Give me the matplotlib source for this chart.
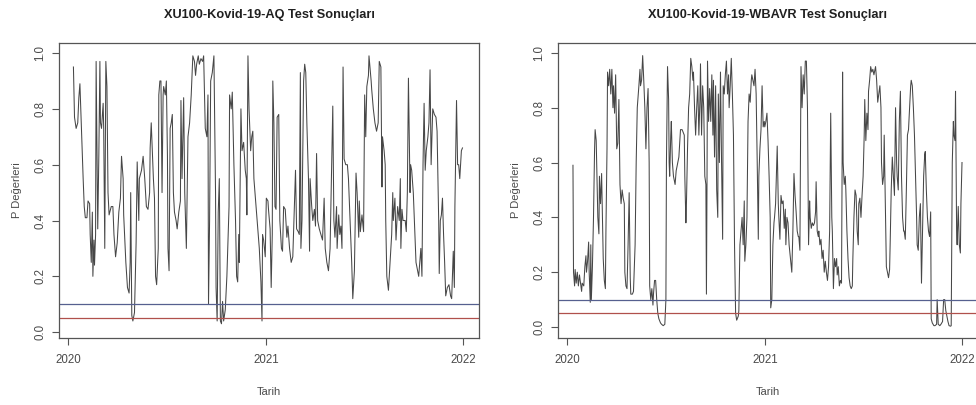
import numpy as np
import pandas as pd
import matplotlib
matplotlib.use("Agg")
import matplotlib.pyplot as plt
import matplotlib.dates as mdates

plt.rcParams['font.family'] = ['Liberation Sans', 'DejaVu Sans']

# day offsets from 2020-01-01 and p values
aq_days = [10, 12, 15, 18, 20, 22, 25, 28, 30, 32, 35, 37, 40, 41, 43, 45, 46, 48, 49, 51,
           52, 54, 55, 57, 59, 60, 62, 65, 66, 68, 70, 72, 74, 76, 80, 83, 85, 88, 91, 94,
           97, 99, 102, 103, 107, 110, 113, 115, 116, 118, 120, 123, 126, 128, 131, 132, 136, 139, 142, 145,
           148, 151, 152, 154, 157, 158, 160, 162, 164, 167, 168, 170, 172, 174, 176, 177, 180, 182, 184, 185,
           187, 189, 191, 193, 195, 197, 200, 202, 205, 208, 209, 211, 214, 216, 219, 222, 225, 228, 231, 234,
           236, 238, 241, 243, 246, 249, 251, 254, 257, 259, 260, 262, 264, 267, 270, 273, 274, 276, 278, 280,
           282, 284, 286, 288, 291, 294, 298, 299, 302, 304, 307, 310, 312, 314, 316, 317, 320, 322, 325, 328,
           330, 331, 333, 335, 338, 340, 342, 344, 346, 348, 351, 354, 357, 359, 360, 362, 365, 367, 370, 371,
           374, 376, 378, 379, 381, 383, 385, 387, 390, 392, 395, 397, 399, 402, 405, 407, 410, 413, 416, 419,
           421, 423, 426, 428, 430, 431, 433, 436, 438, 440, 442, 445, 447, 448, 451, 453, 456, 458, 460, 462,
           465, 468, 471, 474, 476, 479, 482, 485, 488, 490, 492, 494, 497, 498, 501, 503, 505, 507, 509, 511,
           514, 517, 519, 522, 525, 527, 530, 533, 535, 538, 539, 541, 544, 547, 549, 551, 553, 556, 557, 561,
           562, 565, 568, 571, 574, 576, 579, 581, 582, 585, 587, 588, 590, 593, 596, 599, 601, 602, 605, 607,
           610, 613, 615, 616, 618, 620, 624, 626, 628, 630, 633, 634, 636, 639, 641, 644, 647, 649, 651, 653,
           655, 657, 659, 661, 663, 666, 668, 670, 672, 675, 678, 681, 683, 686, 687, 689, 691, 693, 695, 697,
           699, 702, 705, 708, 710, 713, 715, 716, 719, 721, 723, 725, 728, 730]
aq_p = [0.95, 0.77, 0.73, 0.75, 0.84, 0.89, 0.72, 0.55, 0.45, 0.41, 0.41, 0.47, 0.46, 0.35, 0.25, 0.43, 0.20, 0.33, 0.24, 0.35,
        0.97, 0.55, 0.37, 0.63, 0.97, 0.75, 0.73, 0.82, 0.73, 0.30, 0.97, 0.88, 0.50, 0.42, 0.45, 0.45, 0.35, 0.27, 0.32, 0.43,
        0.48, 0.63, 0.55, 0.42, 0.25, 0.16, 0.14, 0.25, 0.50, 0.06, 0.04, 0.07, 0.32, 0.61, 0.40, 0.55, 0.58, 0.63, 0.55, 0.45,
        0.44, 0.50, 0.66, 0.75, 0.60, 0.55, 0.48, 0.20, 0.17, 0.30, 0.85, 0.90, 0.90, 0.50, 0.85, 0.88, 0.85, 0.90, 0.63, 0.30,
        0.22, 0.73, 0.75, 0.78, 0.50, 0.43, 0.40, 0.37, 0.43, 0.47, 0.83, 0.55, 0.84, 0.50, 0.30, 0.70, 0.75, 0.85, 0.99, 0.97,
        0.92, 0.96, 0.99, 0.96, 0.98, 0.97, 0.99, 0.73, 0.70, 0.85, 0.10, 0.40, 0.90, 0.93, 0.99, 0.50, 0.16, 0.04, 0.43, 0.55,
        0.04, 0.03, 0.11, 0.04, 0.08, 0.20, 0.45, 0.85, 0.80, 0.86, 0.60, 0.40, 0.20, 0.18, 0.35, 0.25, 0.80, 0.65, 0.68, 0.58,
        0.55, 0.42, 0.99, 0.80, 0.65, 0.70, 0.72, 0.55, 0.50, 0.45, 0.38, 0.30, 0.18, 0.04, 0.35, 0.33, 0.27, 0.48, 0.47, 0.44,
        0.37, 0.16, 0.35, 0.90, 0.75, 0.45, 0.44, 0.77, 0.78, 0.40, 0.30, 0.29, 0.45, 0.44, 0.34, 0.38, 0.30, 0.25, 0.27, 0.45,
        0.58, 0.37, 0.36, 0.35, 0.93, 0.30, 0.40, 0.90, 0.96, 0.93, 0.75, 0.55, 0.29, 0.55, 0.45, 0.40, 0.44, 0.38, 0.64, 0.40,
        0.37, 0.35, 0.33, 0.48, 0.30, 0.25, 0.22, 0.30, 0.60, 0.81, 0.40, 0.34, 0.45, 0.30, 0.42, 0.35, 0.38, 0.30, 0.95, 0.62,
        0.60, 0.60, 0.55, 0.40, 0.25, 0.12, 0.22, 0.57, 0.50, 0.34, 0.47, 0.36, 0.42, 0.36, 0.85, 0.70, 0.88, 0.92, 0.99, 0.90,
        0.87, 0.80, 0.75, 0.72, 0.75, 0.97, 0.95, 0.52, 0.70, 0.65, 0.60, 0.40, 0.20, 0.15, 0.25, 0.35, 0.50, 0.40, 0.48, 0.33,
        0.45, 0.40, 0.55, 0.30, 0.44, 0.40, 0.40, 0.36, 0.50, 0.91, 0.50, 0.60, 0.58, 0.50, 0.40, 0.25, 0.22, 0.20, 0.25, 0.30,
        0.20, 0.60, 0.82, 0.58, 0.65, 0.70, 0.75, 0.94, 0.60, 0.80, 0.78, 0.77, 0.72, 0.40, 0.21, 0.40, 0.42, 0.48, 0.35, 0.25,
        0.13, 0.16, 0.17, 0.13, 0.12, 0.29, 0.16, 0.45, 0.83, 0.60, 0.60, 0.55, 0.65, 0.66]

wbavr_days = [11, 12, 14, 15, 17, 19, 21, 23, 25, 27, 28, 31, 33, 35, 36, 38, 40, 41, 43, 44,
              45, 47, 49, 51, 52, 54, 56, 57, 59, 60, 62, 64, 65, 67, 69, 71, 72, 74, 75, 77,
              79, 81, 83, 85, 86, 88, 90, 92, 94, 96, 98, 100, 102, 104, 106, 107, 109, 111, 113, 115,
              117, 118, 121, 123, 126, 128, 130, 133, 135, 136, 138, 140, 142, 144, 146, 148, 150, 152, 153, 155,
              157, 159, 160, 162, 164, 166, 168, 170, 173, 175, 178, 181, 183, 184, 186, 188, 189, 190, 192, 193,
              195, 197, 200, 202, 205, 207, 210, 213, 217, 218, 220, 221, 223, 225, 227, 229, 231, 233, 234, 236,
              238, 240, 242, 244, 246, 247, 249, 251, 253, 255, 257, 258, 259, 260, 262, 264, 266, 268, 270, 271,
              273, 275, 277, 279, 280, 282, 284, 286, 288, 289, 291, 293, 295, 297, 299, 300, 302, 304, 306, 308,
              310, 312, 314, 317, 318, 320, 322, 324, 326, 328, 329, 331, 333, 335, 337, 339, 341, 342, 344, 346,
              348, 350, 352, 354, 355, 357, 359, 361, 363, 365, 366, 368, 370, 372, 374, 376, 377, 379, 381, 383,
              384, 386, 389, 391, 392, 394, 396, 398, 400, 402, 404, 405, 407, 409, 411, 413, 415, 416, 418, 420,
              422, 424, 426, 428, 429, 431, 433, 435, 437, 439, 441, 443, 445, 447, 449, 450, 452, 454, 456, 458,
              460, 461, 463, 465, 466, 468, 470, 472, 474, 476, 478, 480, 482, 484, 486, 488, 490, 491, 493, 495,
              497, 499, 500, 502, 504, 506, 508, 510, 511, 513, 515, 516, 518, 520, 522, 524, 526, 528, 529, 531,
              533, 535, 537, 539, 540, 542, 544, 546, 548, 550, 551, 553, 555, 557, 558, 560, 562, 564, 566, 568,
              569, 571, 573, 575, 577, 579, 581, 582, 584, 586, 587, 589, 591, 593, 595, 597, 598, 600, 602, 604,
              606, 608, 610, 611, 613, 615, 617, 619, 621, 623, 624, 626, 628, 630, 632, 634, 636, 637, 639, 641,
              643, 645, 647, 648, 650, 652, 654, 656, 658, 660, 662, 663, 665, 667, 669, 671, 673, 674, 676, 679,
              681, 684, 685, 687, 690, 692, 695, 697, 699, 701, 703, 705, 707, 710, 711, 713, 715, 716, 718, 719,
              721, 722, 724, 726, 728, 729, 731]
wbavr_p = [0.59, 0.20, 0.15, 0.21, 0.16, 0.20, 0.15, 0.19, 0.16, 0.13, 0.16, 0.15, 0.22, 0.26, 0.20, 0.24, 0.31, 0.20, 0.09, 0.30,
           0.10, 0.22, 0.40, 0.65, 0.72, 0.68, 0.50, 0.40, 0.34, 0.55, 0.45, 0.56, 0.45, 0.25, 0.17, 0.14, 0.35, 0.65, 0.93, 0.88,
           0.94, 0.85, 0.94, 0.80, 0.88, 0.78, 0.92, 0.65, 0.67, 0.83, 0.52, 0.45, 0.50, 0.47, 0.45, 0.20, 0.15, 0.14, 0.30, 0.49,
           0.18, 0.12, 0.12, 0.13, 0.30, 0.60, 0.80, 0.88, 0.94, 0.88, 0.90, 0.99, 0.90, 0.80, 0.65, 0.80, 0.87, 0.60, 0.15, 0.10,
           0.14, 0.08, 0.12, 0.17, 0.17, 0.10, 0.05, 0.03, 0.015, 0.01, 0.005, 0.01, 0.10, 0.60, 0.95, 0.83, 0.60, 0.55, 0.70, 0.75,
           0.60, 0.55, 0.52, 0.57, 0.60, 0.62, 0.72, 0.72, 0.70, 0.55, 0.38, 0.45, 0.65, 0.80, 0.85, 0.98, 0.95, 0.90, 0.93, 0.80,
           0.70, 0.80, 0.88, 0.70, 0.83, 0.96, 0.70, 0.88, 0.80, 0.55, 0.52, 0.12, 0.50, 0.97, 0.75, 0.87, 0.75, 0.92, 0.70, 0.90,
           0.62, 0.88, 0.50, 0.40, 0.85, 0.60, 0.93, 0.60, 0.32, 0.88, 0.85, 0.92, 0.97, 0.85, 0.92, 0.80, 0.88, 0.98, 0.85, 0.70,
           0.30, 0.05, 0.025, 0.04, 0.06, 0.30, 0.35, 0.40, 0.30, 0.46, 0.24, 0.30, 0.40, 0.75, 0.85, 0.82, 0.90, 0.92, 0.90, 0.88,
           0.94, 0.85, 0.60, 0.32, 0.55, 0.65, 0.72, 0.88, 0.73, 0.75, 0.73, 0.75, 0.78, 0.68, 0.55, 0.40, 0.07, 0.10, 0.30, 0.38,
           0.40, 0.45, 0.66, 0.45, 0.40, 0.32, 0.48, 0.45, 0.46, 0.36, 0.43, 0.30, 0.40, 0.38, 0.30, 0.26, 0.22, 0.20, 0.35, 0.56,
           0.48, 0.42, 0.35, 0.33, 0.33, 0.28, 0.95, 0.80, 0.92, 0.85, 0.97, 0.97, 0.80, 0.30, 0.46, 0.40, 0.36, 0.38, 0.37, 0.38,
           0.42, 0.53, 0.35, 0.33, 0.35, 0.30, 0.32, 0.25, 0.28, 0.20, 0.24, 0.20, 0.17, 0.22, 0.35, 0.78, 0.40, 0.35, 0.14, 0.25,
           0.22, 0.25, 0.19, 0.22, 0.15, 0.17, 0.16, 0.93, 0.60, 0.52, 0.55, 0.50, 0.35, 0.25, 0.18, 0.15, 0.14, 0.15, 0.25, 0.40,
           0.50, 0.48, 0.35, 0.30, 0.45, 0.47, 0.40, 0.48, 0.55, 0.70, 0.83, 0.68, 0.78, 0.72, 0.86, 0.90, 0.95, 0.93, 0.94, 0.92,
           0.93, 0.95, 0.90, 0.82, 0.85, 0.88, 0.80, 0.60, 0.52, 0.55, 0.70, 0.45, 0.22, 0.20, 0.18, 0.21, 0.30, 0.50, 0.62, 0.55,
           0.48, 0.80, 0.60, 0.55, 0.50, 0.75, 0.86, 0.55, 0.40, 0.35, 0.35, 0.32, 0.50, 0.70, 0.72, 0.80, 0.88, 0.90, 0.88, 0.80,
           0.70, 0.55, 0.40, 0.30, 0.28, 0.40, 0.45, 0.16, 0.35, 0.55, 0.63, 0.64, 0.50, 0.40, 0.35, 0.33, 0.42, 0.03, 0.015, 0.005,
           0.005, 0.01, 0.10, 0.01, 0.005, 0.01, 0.02, 0.10, 0.10, 0.06, 0.04, 0.02, 0.005, 0.003, 0.005, 0.60, 0.75, 0.70, 0.68, 0.86,
           0.35, 0.30, 0.44, 0.30, 0.27, 0.45, 0.60]

titles = ["XU100-Kovid-19-AQ Test Sonuçları", "XU100-Kovid-19-WBAVR Test Sonuçları"]
year_ticks = ["2020", "2021", "2022"]
y_ticks = [0.0, 0.2, 0.4, 0.6, 0.8, 1.0]
alpha_levels = [0.10, 0.05]
level_colors = ["#56608f", "#b0504c"]

start = pd.Timestamp("2020-01-01")

fig = plt.figure(figsize=(9.76, 4.05), dpi=100)
ax_left = fig.add_axes([59 / 976, 67 / 405, 420 / 976, 295 / 405])
ax_right = fig.add_axes([558 / 976, 67 / 405, 420 / 976, 295 / 405])

panels = [(ax_left, aq_days, aq_p, (-0.021, 1.036)),
          (ax_right, wbavr_days, wbavr_p, (-0.040, 1.036))]

text_col = "#4a4a4a"
for i, (ax, days, p, ylim) in enumerate(panels):
    x = start + pd.to_timedelta(days, unit="D")
    ax.plot(x, p, color="#474747", lw=0.75)
    for lev, col in zip(alpha_levels, level_colors):
        ax.axhline(lev, color=col, lw=0.9)

    ax.set_xlim(start - pd.Timedelta(days=16.7), start + pd.Timedelta(days=760.6))
    ax.set_ylim(*ylim)
    ax.set_xticks([pd.Timestamp(y + "-01-01") for y in year_ticks])
    ax.set_xticklabels(year_ticks)
    ax.set_yticks(y_ticks)
    ax.set_yticklabels(["%.1f" % v for v in y_ticks], rotation=90, va="center")
    ax.tick_params(direction="out", length=5, width=0.8, color="#555555",
                   labelsize=8.3, labelcolor=text_col)
    ax.tick_params(axis="x", pad=6.5)
    ax.tick_params(axis="y", pad=4)
    for s in ax.spines.values():
        s.set_color("#555555")
        s.set_linewidth(0.9)

    ax.set_title(titles[i], fontsize=9.2, fontweight="bold", color="#202020", pad=18)
    ax.set_xlabel("Tarih", fontsize=8, color=text_col, labelpad=15)
    ax.set_ylabel("P Değerleri", fontsize=8, color=text_col, labelpad=9)

fig.savefig("out.png", dpi=100, facecolor="white")
